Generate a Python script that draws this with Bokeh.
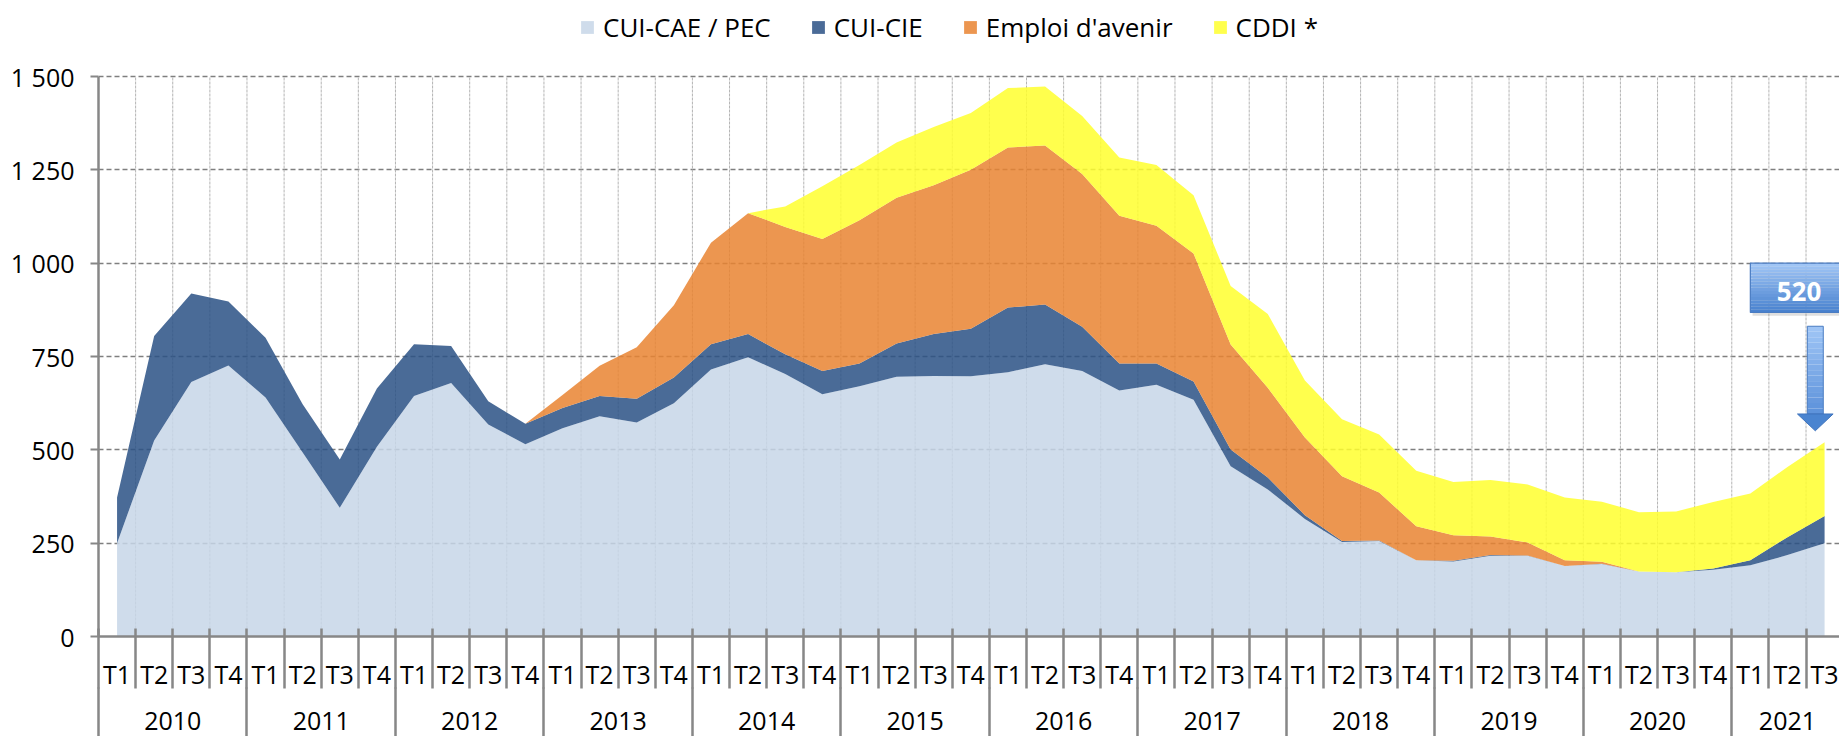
import numpy as np
from bokeh.plotting import figure
from bokeh.models import (ColumnDataSource, Range1d, FixedTicker, LinearAxis, Legend,
                          LegendItem, AllLabels)
from bokeh.core.properties import value
from bokeh.embed import file_html
from bokeh.resources import INLINE

# ---------------- data ----------------
years = ["2010", "2011", "2012", "2013", "2014", "2015", "2016", "2017",
         "2018", "2019", "2020", "2021"]
quarters = ["T1", "T2", "T3", "T4"]
categories = [(y, q) for y in years for q in quarters][:47]   # 2010 T1 -> 2021 T3

series_names = ["CUI-CAE / PEC", "CUI-CIE", "Emploi d'avenir", "CDDI *"]

cui_cae_pec = [250, 525, 682, 726, 640, 493, 345, 508, 644, 679, 568, 515, 558, 590, 573, 625,
               715, 748, 703, 649, 670, 696, 698, 697, 708, 729, 711, 659, 674, 634, 456, 394,
               315, 253, 256, 204, 201, 216, 216, 189, 194, 174, 172, 179, 191, 218, 250]
cui_cie = [122, 280, 237, 171, 160, 129, 129, 156, 139, 99, 62, 55, 54, 54, 64, 69,
           68, 62, 53, 62, 61, 89, 112, 127, 173, 160, 119, 72, 57, 49, 45, 32,
           10, 3, 1, 0, 2, 2, 1, 0, 1, 0, 0, 3, 13, 48, 73]
emploi_avenir = [0, 0, 0, 0, 0, 0, 0, 0, 0, 0, 0, 0, 35, 81, 138, 193,
                 272, 324, 341, 354, 384, 390, 399, 426, 429, 426, 409, 396, 369, 343, 281, 240,
                 208, 173, 129, 91, 68, 50, 35, 15, 5, 0, 0, 0, 0, 0, 0]
cddi = [0, 0, 0, 0, 0, 0, 0, 0, 0, 0, 0, 0, 0, 0, 0, 0,
        0, 0, 55, 141, 148, 148, 156, 152, 159, 158, 155, 156, 163, 156, 157, 198,
        153, 153, 155, 149, 143, 151, 155, 168, 161, 159, 163, 178, 179, 188, 197]

y_ticks = [0, 250, 500, 750, 1000, 1250, 1500]
y_tick_labels = ["0", "250", "500", "750", "1 000", "1 250", "1 500"]

# ---------------- styling ----------------
FONT = "Open Sans"
AXIS_GREY = "#878787"
fills = ["#C7D6E8", "#2A5185", "#E98431", "#FFFF2E"]
AREA_ALPHA = 0.85
TICK_FS = "25px"

W, H = 1839, 736
LEFT, BOTTOM = 98, 100          # border sizes (px)
PLOT_TOP_PX = 76                # where the 1 500 gridline sits
y_max = y_ticks[-1] * (H - BOTTOM) / (H - BOTTOM - PLOT_TOP_PX)   # room above for the legend
x_max = (W - LEFT) / 37.12      # categories are ~37 px wide; the last one is cut by the edge

n = len(categories)
xs = [i + 0.5 for i in range(n)]
boundaries = list(range(n + 1))
quarter_labels = [q for (_, q) in categories]

# year groups
year_bounds, year_centers, year_labels = [], [], []
start = 0
for i in range(1, n + 1):
    if i == n or categories[i][0] != categories[start][0]:
        year_bounds.append(start)
        year_centers.append((start + i) / 2)
        year_labels.append(categories[start][0])
        start = i
year_bounds.append(n)

src = ColumnDataSource(dict(x=xs, cae=cui_cae_pec, cie=cui_cie, ea=emploi_avenir, cddi=cddi))

p = figure(width=W, height=H, x_range=Range1d(0, x_max), y_range=Range1d(0, y_max),
           output_backend="svg", toolbar_location=None, x_axis_type=None,
           min_border_left=LEFT, min_border_top=0, min_border_right=0, min_border_bottom=BOTTOM)
p.outline_line_color = None
p.background_fill_color = "white"
p.border_fill_color = "white"

# vertical category gridlines (light, dashed), stopping at the top gridline
vb = boundaries[1:]
p.segment(x0=vb, y0=[0] * len(vb), x1=vb, y1=[y_ticks[-1]] * len(vb),
          line_color="#b4b4b4", line_width=1, line_dash="3 1")

rs = p.varea_stack(stackers=["cae", "cie", "ea", "cddi"], x="x", color=fills,
                   fill_alpha=AREA_ALPHA, source=src)

# horizontal gridlines
p.ygrid.ticker = FixedTicker(ticks=y_ticks[1:])
p.ygrid.grid_line_color = "#7f7f7f"
p.ygrid.grid_line_width = 1.6
p.ygrid.grid_line_dash = "5 3"

# ---------------- y axis ----------------
ya = p.yaxis[0]
ya.ticker = FixedTicker(ticks=y_ticks)
ya.bounds = (0, y_ticks[-1])
ya.major_label_overrides = {t: l for t, l in zip(y_ticks, y_tick_labels)}
ya.axis_line_color = AXIS_GREY
ya.axis_line_width = 2.5
ya.major_tick_line_color = AXIS_GREY
ya.major_tick_line_width = 2
ya.major_tick_out = 8
ya.major_tick_in = 0
ya.minor_tick_line_color = None
ya.major_label_standoff = 16
ya.major_label_text_font = FONT
ya.major_label_text_font_size = TICK_FS
ya.major_label_text_color = "black"

# ---------------- x axes (quarters + years) ----------------
ax1 = LinearAxis(ticker=FixedTicker(ticks=xs, minor_ticks=boundaries),
                 major_label_overrides={x: q for x, q in zip(xs, quarter_labels)},
                 major_label_policy=AllLabels())
ax1.axis_line_color = AXIS_GREY
ax1.axis_line_width = 2.5
ax1.major_tick_line_color = None
ax1.major_tick_out = 0
ax1.major_tick_in = 0
ax1.minor_tick_line_color = AXIS_GREY
ax1.minor_tick_line_width = 2.5
ax1.minor_tick_in = 8
ax1.minor_tick_out = 52
ax1.major_label_standoff = -32
ax1.major_label_text_font = FONT
ax1.major_label_text_font_size = TICK_FS
ax1.major_label_text_color = "black"

ax2 = LinearAxis(ticker=FixedTicker(ticks=year_centers, minor_ticks=year_bounds),
                 major_label_overrides={x: y for x, y in zip(year_centers, year_labels)},
                 major_label_policy=AllLabels())
ax2.axis_line_color = None
ax2.major_tick_line_color = None
ax2.major_tick_out = 0
ax2.major_tick_in = 0
ax2.minor_tick_line_color = AXIS_GREY
ax2.minor_tick_line_width = 2.5
ax2.minor_tick_in = 6
ax2.minor_tick_out = 56
ax2.major_label_standoff = -38
ax2.major_label_text_font = FONT
ax2.major_label_text_font_size = TICK_FS
ax2.major_label_text_color = "black"

p.add_layout(ax1, "below")
p.add_layout(ax2, "below")

# ---------------- legend (top, above the 1 500 line) ----------------
legend = Legend(items=[LegendItem(label=nm, renderers=[r]) for nm, r in zip(series_names, rs)],
                orientation="horizontal", location=(481, 591),
                border_line_color=None, background_fill_alpha=0,
                padding=0, margin=0, spacing=39, label_standoff=8,
                glyph_width=16, glyph_height=16,
                label_text_font=FONT, label_text_font_size="26px", label_text_color="black")
p.add_layout(legend, "center")

# ---------------- call-out on last value ----------------
last_x = xs[-1]
last_total = cui_cae_pec[-1] + cui_cie[-1] + emploi_avenir[-1] + cddi[-1]


def lerp(c1, c2, t):
    return "#%02x%02x%02x" % tuple(int(round(a + (b - a) * t)) for a, b in zip(c1, c2))


# box
bx0, bx1 = last_x - 2.0, last_x + 1.0
by0, by1 = last_total + 348, last_total + 480
p.quad(left=[bx0 + 0.06], right=[bx1 + 0.06], bottom=[by0 - 9], top=[by1 - 9],
       fill_color="#808080", fill_alpha=0.25, line_color=None)
nsl = 16
edges = np.linspace(by1, by0, nsl + 1)
cols = [lerp((163, 199, 246), (70, 128, 206), (k + 0.5) / nsl) for k in range(nsl)]
p.quad(left=[bx0] * nsl, right=[bx1] * nsl, top=list(edges[:-1]), bottom=list(edges[1:]),
       fill_color=cols, line_color=None)
p.quad(left=[bx0], right=[bx1], bottom=[by0], top=[by1], fill_color=None,
       line_color="#4a7cc2", line_width=1.2)
p.text(x=[last_x - 0.69], y=[last_total + 405], text=[str(last_total)],
       text_font=value(FONT), text_font_style="bold", text_font_size="26px",
       text_color="white", text_align="center", text_baseline="middle")

# arrow
ax_c = last_x - 0.25
sw, hw = 0.215, 0.48
s_top, s_bot, tip = last_total + 311, last_total + 76, last_total + 31
edges = np.linspace(s_top, s_bot, nsl + 1)
cols = [lerp((160, 198, 246), (92, 145, 218), (k + 0.5) / nsl) for k in range(nsl)]
p.quad(left=[ax_c - sw] * nsl, right=[ax_c + sw] * nsl, top=list(edges[:-1]),
       bottom=list(edges[1:]), fill_color=cols, line_color=None)
p.quad(left=[ax_c - sw], right=[ax_c + sw], bottom=[s_bot], top=[s_top], fill_color=None,
       line_color="#4a7cc2", line_width=1)
p.patch(x=[ax_c - hw, ax_c + hw, ax_c], y=[s_bot, s_bot, tip],
        fill_color="#4a84d0", line_color="#3f74bd", line_width=1)

open("out.html", "w").write(file_html(p, INLINE))
